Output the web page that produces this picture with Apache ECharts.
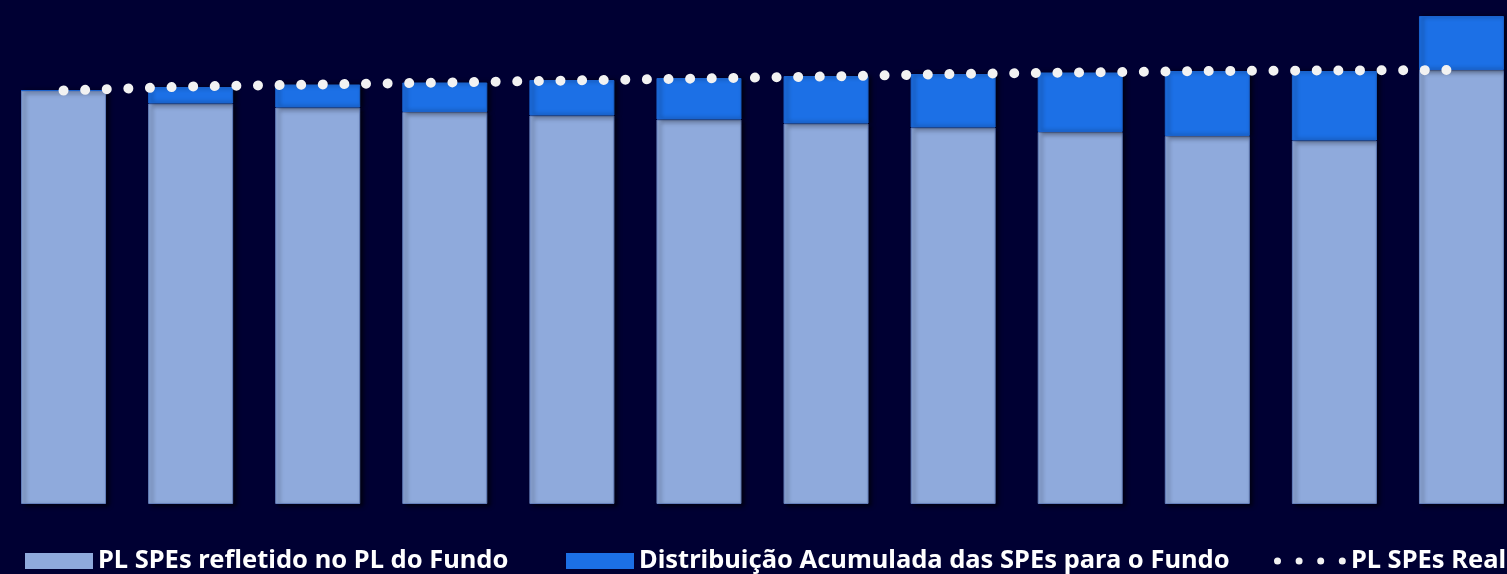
<!DOCTYPE html>
<html>
<head>
<meta charset="utf-8">
<title>PL SPEs</title>
<script src="https://cdn.jsdelivr.net/npm/echarts@6/dist/echarts.min.js"></script>
<style>
  html, body { margin: 0; padding: 0; background: #000033; }
  #chart { width: 1507px; height: 574px; }
</style>
</head>
<body>
<div id="chart"></div>
<script>
// períodos (o eixo não mostra rótulos)
const periodos = ['1', '2', '3', '4', '5', '6', '7', '8', '9', '10', '11', '12']

// PL SPEs refletido no PL do Fundo
const plRefletido = [82.7, 80.1, 79.3, 78.4, 77.7, 76.9, 76.1, 75.3, 74.4, 73.6, 72.7, 86.8]
// Distribuição acumulada das SPEs para o Fundo
const distribuicao = [0, 3.3, 4.6, 5.9, 7.1, 8.3, 9.5, 10.7, 11.9, 13.0, 13.9, 10.8]
// PL SPEs Real (linha pontilhada)
const plReal = [82.7, 83.5, 83.9, 84.3, 84.7, 85.1, 85.5, 86.0, 86.3, 86.6, 86.7, 86.8]

const legendText = {
  color: '#FFFFFF',
  fontFamily: 'Noto Sans',
  fontWeight: 'bold',
  fontSize: 25.5
}

// quatro pontos para o ícone da linha pontilhada
const dotsIcon = 'path://M0,3.5a3.5,3.5 0 1,0 7,0a3.5,3.5 0 1,0 -7,0Z' +
  'M21.6,3.5a3.5,3.5 0 1,0 7,0a3.5,3.5 0 1,0 -7,0Z' +
  'M43.2,3.5a3.5,3.5 0 1,0 7,0a3.5,3.5 0 1,0 -7,0Z' +
  'M64.8,3.5a3.5,3.5 0 1,0 7,0a3.5,3.5 0 1,0 -7,0Z'

const chart = echarts.init(document.getElementById('chart'))
chart.setOption({
  backgroundColor: '#000033',
  animation: false,
  // a última coluna passa da borda direita, como no original
  grid: { left: 0, width: 1525, top: 4, bottom: 70, outerBoundsMode: 'none', containLabel: false },
  legend: [
    {
      data: ['PL SPEs refletido no PL do Fundo'],
      left: 25, top: 548, padding: 0,
      icon: 'rect',
      itemWidth: 68, itemHeight: 16, itemGap: 0,
      itemStyle: { borderWidth: 0, shadowBlur: 0, shadowOffsetX: 0, shadowOffsetY: 0 },
      textStyle: legendText
    },
    {
      data: ['Distribuição Acumulada das SPEs para o Fundo'],
      left: 566, top: 548, padding: 0,
      icon: 'rect',
      itemWidth: 68, itemHeight: 16, itemGap: 0,
      itemStyle: { borderWidth: 0, shadowBlur: 0, shadowOffsetX: 0, shadowOffsetY: 0 },
      textStyle: legendText
    },
    {
      data: ['PL SPEs Realizado'],
      left: 1274, top: 548, padding: 0,
      icon: dotsIcon,
      itemWidth: 72, itemHeight: 7, itemGap: 0,
      itemStyle: { color: '#F2F2F2', borderWidth: 0 },
      textStyle: legendText
    }
  ],
  xAxis: {
    type: 'category',
    data: periodos,
    show: false
  },
  yAxis: {
    type: 'value',
    min: 0,
    max: 100,
    show: false
  },
  series: [
    {
      name: 'PL SPEs refletido no PL do Fundo',
      type: 'bar',
      stack: 'pl',
      barWidth: 85,
      data: plRefletido,
      itemStyle: {
        color: '#8FAADC',
        borderColor: '#6580BC',
        borderWidth: 1,
        shadowColor: 'rgba(0, 0, 0, 0.6)',
        shadowBlur: 4,
        shadowOffsetX: 3,
        shadowOffsetY: 2
      }
    },
    {
      name: 'Distribuição Acumulada das SPEs para o Fundo',
      type: 'bar',
      stack: 'pl',
      barWidth: 85,
      data: distribuicao,
      itemStyle: {
        color: '#1C70E6',
        borderColor: '#1A62CC',
        borderWidth: 1,
        shadowColor: 'rgba(0, 0, 0, 0.6)',
        shadowBlur: 4,
        shadowOffsetX: 3,
        shadowOffsetY: 0
      }
    },
    {
      name: 'PL SPEs Realizado',
      type: 'line',
      data: plReal,
      symbol: 'none',
      z: 5,
      itemStyle: { color: '#F2F2F2' },
      lineStyle: {
        color: '#F2F2F2',
        width: 10,
        type: [0.01, 21.6],
        cap: 'round'
      }
    }
  ]
})
</script>
</body>
</html>
